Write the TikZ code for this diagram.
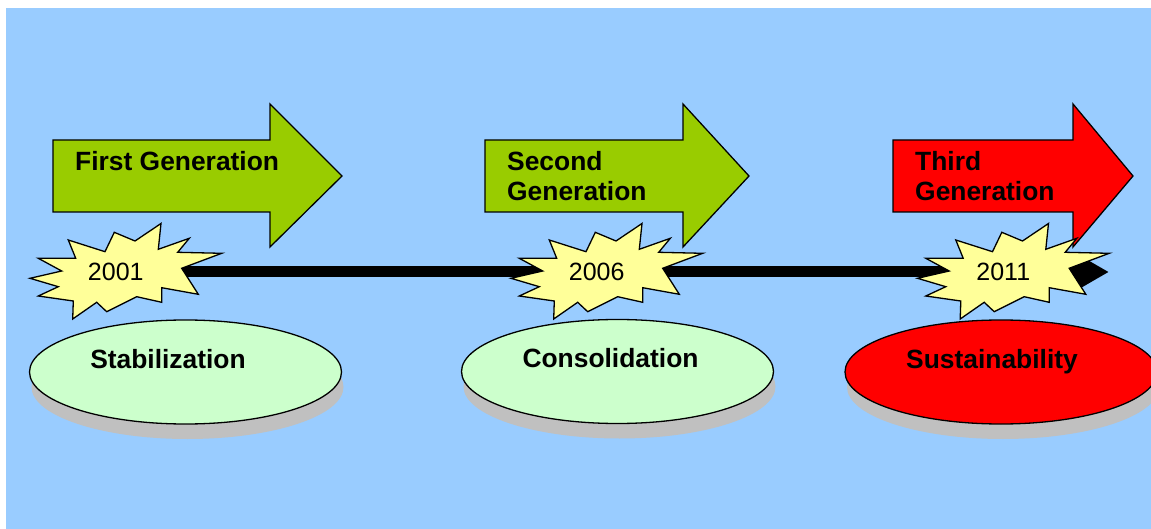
\documentclass[tikz,border=0pt]{standalone}
\usepackage{fontspec}
\setmainfont{Liberation Sans}
\usetikzlibrary{arrows.meta,shapes.geometric}
\definecolor{bgblue}{HTML}{99CCFF}
\definecolor{arrgreen}{HTML}{99CC00}
\definecolor{arrred}{HTML}{FF0000}
\definecolor{burstyel}{HTML}{FFFF99}
\definecolor{ellgreen}{HTML}{CCFFCC}
\definecolor{shadowgray}{HTML}{C0C0C0}
\tikzset{
  outl/.style={draw=black, line width=1.3pt, line join=miter},
  blockarrow/.style={outl},
  burststy/.style={outl, fill=burstyel},
  gentext/.style={inner sep=0pt, anchor=base west, font=\fontsize{26.4}{30}\selectfont\bfseries, align=left},
  yeartext/.style={inner sep=0pt, anchor=base, font=\fontsize{25}{30}\selectfont},
  elltext/.style={inner sep=0pt, anchor=base, font=\fontsize{26.4}{30}\selectfont\bfseries},
  ellsty/.style={ellipse, outl, minimum width=312pt, minimum height=104pt, inner sep=0pt},
  shadsty/.style={ellipse, fill=shadowgray, minimum width=312pt, minimum height=104pt, inner sep=0pt},
  burst/.pic={
    \draw[burststy] (-46.7,-32) -- (-10,-20.3) -- (-0.7,-39.7) -- (20,-31) -- (46,-48.5)
      -- (43.3,-22.7) -- (74.3,-33.7) -- (62.7,-19.7) -- (106.7,-18.7) -- (66.7,-3.7)
      -- (83.3,22.3) -- (46.7,15.7) -- (46.7,30.3) -- (21.7,24.7) -- (-8.3,39.7)
      -- (-18.3,30.3) -- (-42.3,47) -- (-41.7,29) -- (-76.7,24) -- (-56.7,14.7)
      -- (-85,6.3) -- (-53.3,-1) -- (-76.7,-13.7) -- (-39.3,-13.7) -- cycle;
  }
}
\begin{document}
\begin{tikzpicture}[x=1pt,y=-1pt]
\useasboundingbox (0,0) rectangle (1151,529);
\fill[white] (0,0) rectangle (1151,529);
\fill[bgblue] (6,8) rectangle (1151,529);

% timeline
\coordinate (tl0) at (60,272);
\coordinate (tl1) at (1109,272);
\draw[line width=11pt, -{Triangle[length=34pt,width=36pt]}] (tl0) -- (tl1);

% block arrows
\draw[blockarrow, fill=arrgreen] (53,140) -- (270,140) -- (270,104) -- (342,176)
  -- (270,247) -- (270,212) -- (53,212) -- cycle;
\draw[blockarrow, fill=arrgreen] (485,140) -- (683,140) -- (683,104) -- (749,176)
  -- (683,247) -- (683,212) -- (485,212) -- cycle;
\draw[blockarrow, fill=arrred] (893,140) -- (1073,140) -- (1073,104) -- (1133,176)
  -- (1073,247) -- (1073,212) -- (893,212) -- cycle;
\node[gentext] (g1) at (75,170.5) {First Generation};
\node[gentext] (g2a) at (507,170.5) {Second};
\node[gentext] (g2b) at (507,200.5) {Generation};
\node[gentext] (g3a) at (915,170.5) {Third};
\node[gentext] (g3b) at (915,200.5) {Generation};

% bursts
\pic at (115,272) {burst};
\pic at (596,272) {burst};
\pic at (1002.5,272) {burst};
\node[yeartext] (y1) at (115.8,281) {2001};
\node[yeartext] (y2) at (596.7,281) {2006};
\node[yeartext] (y3) at (1003.3,281) {2011};

% ellipses
\node[shadsty] (s1) at (187.5,387) {};
\node[shadsty] (s2) at (619.5,386.5) {};
\node[shadsty] (s3) at (1003,387) {};
\node[ellsty, fill=ellgreen] (e1) at (185.5,372) {};
\node[ellsty, fill=ellgreen] (e2) at (617.5,371.5) {};
\node[ellsty, fill=arrred] (e3) at (1001,372) {};
\node[elltext] (t1) at (168,368.3) {Stabilization};
\node[elltext] (t2) at (610.5,367.7) {Consolidation};
\node[elltext] (t3) at (992,368) {Sustainability};
\end{tikzpicture}
\end{document}
